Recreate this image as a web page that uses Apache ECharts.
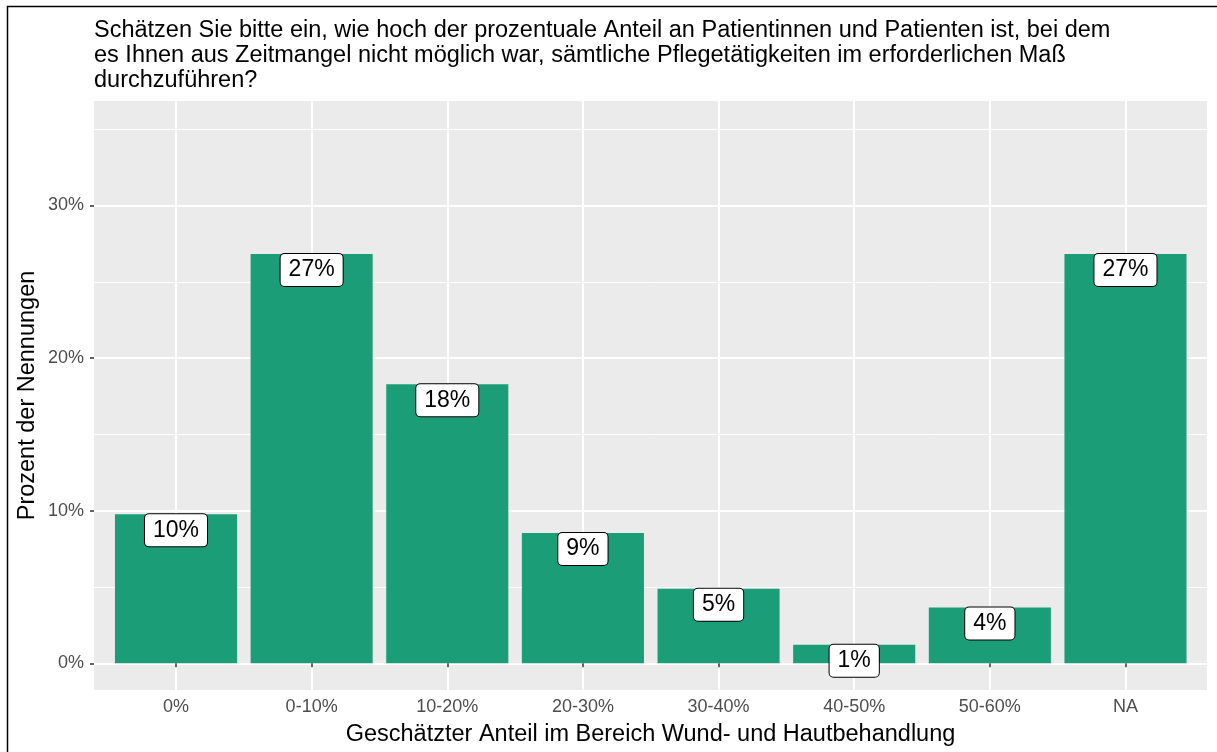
<!DOCTYPE html>
<html>
<head>
<meta charset="utf-8">
<script src="https://cdn.jsdelivr.net/npm/echarts@6/dist/echarts.min.js"></script>
<style>
  html, body { margin: 0; padding: 0; background: #fff; }
  #chart { width: 1217px; height: 752px; }
</style>
</head>
<body>
<div id="chart"></div>
<script>
const categories = ['0%', '0-10%', '10-20%', '20-30%', '30-40%', '40-50%', '50-60%', 'NA']
const percentValues = [9.76, 26.83, 18.29, 8.54, 4.88, 1.22, 3.66, 26.83]
const majorTicks = [0, 10, 20, 30]

const titleText = 'Schätzen Sie bitte ein, wie hoch der prozentuale Anteil an Patientinnen und Patienten ist, bei dem\n' +
  'es Ihnen aus Zeitmangel nicht möglich war, sämtliche Pflegetätigkeiten im erforderlichen Maß\n' +
  'durchzuführen?'

const font = 'Liberation Sans, Arial, sans-serif'

// panel layout (ggplot style)
const panel = { left: 94, top: 101, width: 1113, height: 589 }
const yMin = -1.75
const yMax = 36.85
const pxPerUnit = panel.height / (yMax - yMin)
const yPos = (v) => panel.top + (yMax - v) * pxPerUnit
const step = 135.64
const firstCenter = 176

const chart = echarts.init(document.getElementById('chart'))

const hiddenAxis = (gridIndex) => ({
  gridIndex,
  show: false,
  type: 'value',
  min: 0,
  max: 1
})

const option = {
  animation: false,
  backgroundColor: '#fff',
  textStyle: { fontFamily: font },
  title: {
    text: titleText,
    left: 94,
    top: 18,
    padding: 0,
    textStyle: {
      fontFamily: font,
      fontSize: 23.5,
      fontWeight: 'normal',
      color: '#000',
      lineHeight: 25
    }
  },
  graphic: [
    {
      type: 'rect',
      shape: { x: 7.5, y: 6.5, width: 1400, height: 900 },
      style: { fill: 'none', stroke: '#000', lineWidth: 1.5 },
      silent: true
    }
  ],
  grid: [
    // panel background
    { left: panel.left, top: panel.top, width: panel.width, height: panel.height,
      show: true, backgroundColor: '#EBEBEB', borderWidth: 0, outerBoundsMode: 'none' },
    // minor gridlines 0..35
    { left: panel.left, top: yPos(35), width: panel.width, height: yPos(0) - yPos(35),
      outerBoundsMode: 'none' },
    // major gridlines 0..30
    { left: panel.left, top: yPos(30), width: panel.width, height: yPos(0) - yPos(30),
      outerBoundsMode: 'none' },
    // bars, from first to last category centre
    { left: firstCenter, top: panel.top, width: step * (categories.length - 1), height: panel.height,
      outerBoundsMode: 'none' }
  ],
  xAxis: [
    {
      gridIndex: 0,
      type: 'value',
      min: 0,
      max: 1,
      name: 'Geschätzter Anteil im Bereich Wund- und Hautbehandlung',
      nameLocation: 'middle',
      nameGap: 33,
      nameTextStyle: { fontFamily: font, fontSize: 23.5, color: '#000' },
      axisLine: { show: false },
      axisTick: { show: false },
      axisLabel: { show: false },
      splitLine: { show: false }
    },
    hiddenAxis(1),
    hiddenAxis(2),
    {
      gridIndex: 3,
      type: 'category',
      data: categories,
      boundaryGap: false,
      axisLine: { show: false },
      axisTick: { show: true, length: 4, lineStyle: { color: '#333', width: 1.5 } },
      axisLabel: { color: '#4D4D4D', fontSize: 18, fontFamily: font, margin: 8, interval: 0 },
      splitLine: { show: true, lineStyle: { color: '#fff', width: 2 } }
    }
  ],
  yAxis: [
    {
      gridIndex: 0,
      type: 'value',
      min: 0,
      max: 1,
      name: 'Prozent der Nennungen',
      nameLocation: 'middle',
      nameRotate: 90,
      nameGap: 54,
      nameTextStyle: { fontFamily: font, fontSize: 23.5, color: '#000' },
      axisLine: { show: false },
      axisTick: { show: false },
      axisLabel: { show: false },
      splitLine: { show: false }
    },
    {
      gridIndex: 1,
      type: 'value',
      min: 0,
      max: 35,
      interval: 5,
      axisLine: { show: false },
      axisTick: { show: false },
      axisLabel: { show: false },
      splitLine: { show: true, lineStyle: { color: '#fff', width: 1 } }
    },
    {
      gridIndex: 2,
      type: 'value',
      min: majorTicks[0],
      max: majorTicks[majorTicks.length - 1],
      interval: 10,
      axisLine: { show: false },
      axisTick: { show: true, length: 4, lineStyle: { color: '#333', width: 1.5 } },
      axisLabel: { color: '#4D4D4D', fontSize: 18, fontFamily: font, margin: 10, formatter: '{value}%' },
      splitLine: { show: true, lineStyle: { color: '#fff', width: 2 } }
    },
    {
      gridIndex: 3,
      type: 'value',
      min: yMin,
      max: yMax,
      show: false
    }
  ],
  series: [
    {
      type: 'bar',
      xAxisIndex: 3,
      yAxisIndex: 3,
      data: percentValues,
      barWidth: step * 0.9,
      clip: false,
      itemStyle: { color: '#1B9E77' },
      label: {
        show: true,
        position: 'insideTop',
        distance: 0,
        formatter: (p) => Math.round(p.value) + '%',
        fontFamily: font,
        fontSize: 23,
        lineHeight: 20,
        color: '#000',
        backgroundColor: '#fff',
        borderColor: '#000',
        borderWidth: 1,
        borderRadius: 4,
        padding: [6, 8]
      }
    }
  ]
}

chart.setOption(option)
</script>
</body>
</html>
